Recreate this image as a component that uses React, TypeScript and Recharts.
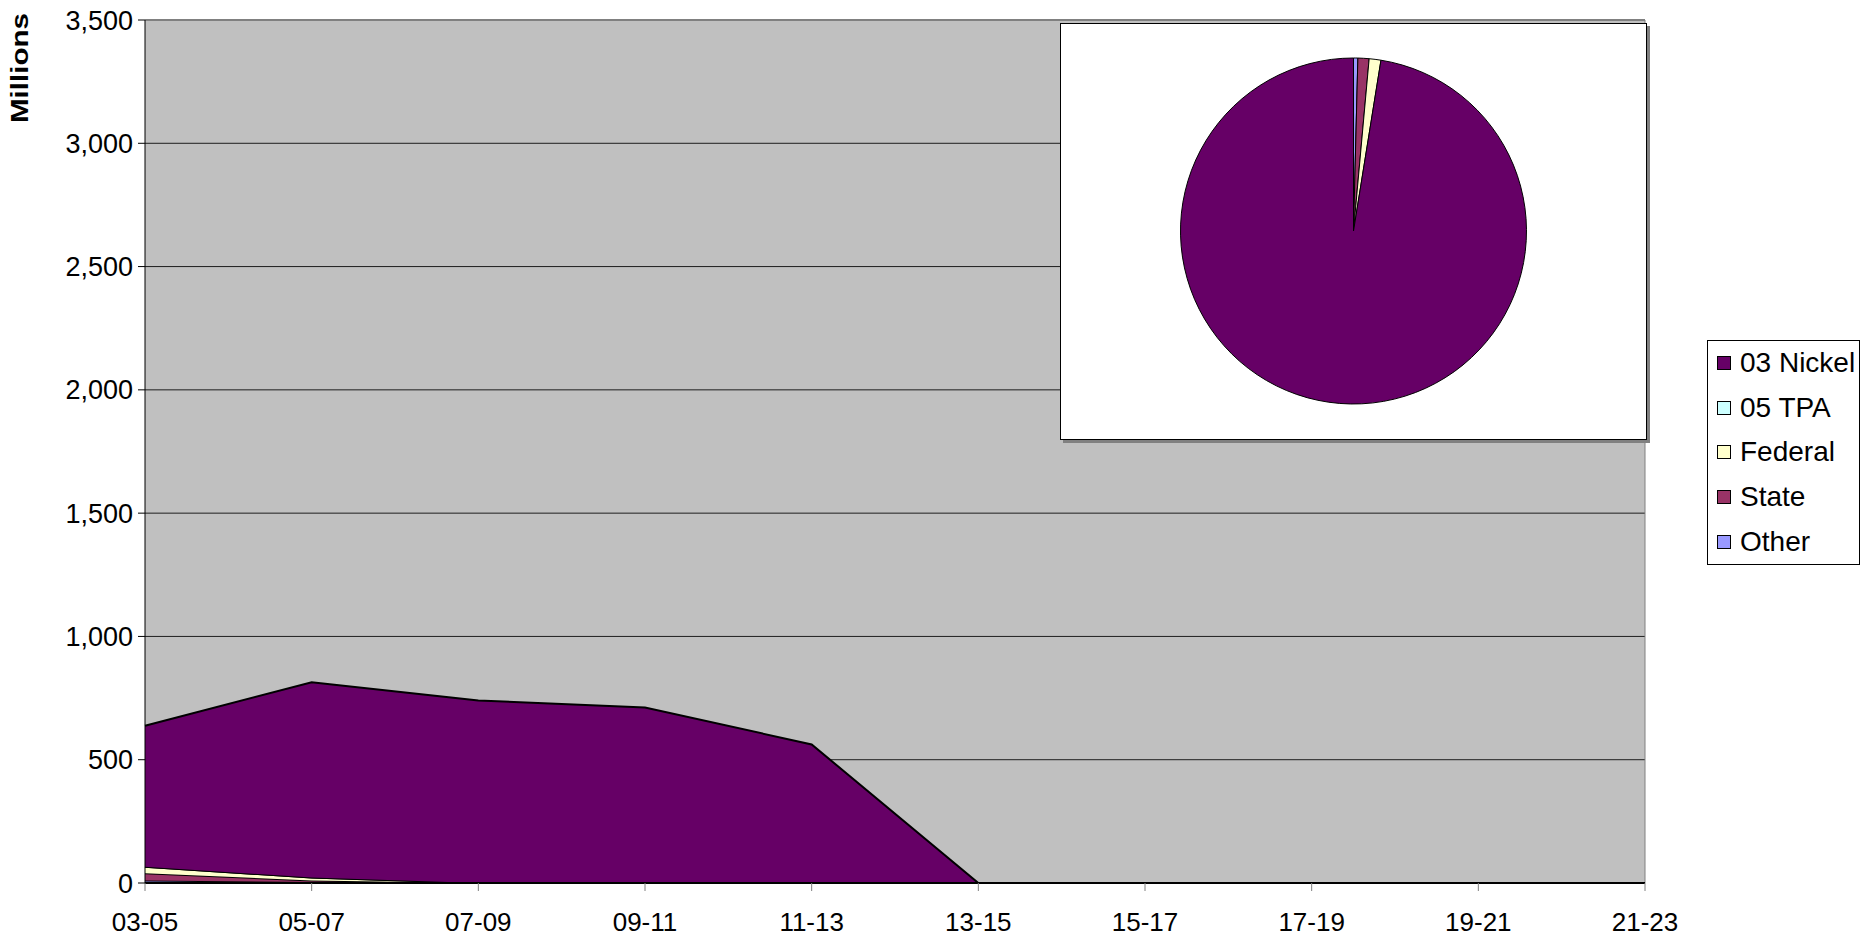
import React from "react";
import {
  AreaChart,
  Area,
  XAxis,
  YAxis,
  CartesianGrid,
  ReferenceLine,
  PieChart,
  Pie,
  Cell,
} from "recharts";

// Biennium periods on the category axis
const periods = ["03-05", "05-07", "07-09", "09-11", "11-13", "13-15", "15-17", "17-19", "19-21", "21-23"];

// Funding by source, in millions
const nickel03 = [572, 792, 740, 712, 562, 0, 0, 0, 0, 0];
const tpa05 = [0, 0, 0, 0, 0, 0, 0, 0, 0, 0];
const federal = [26, 12, 0, 0, 0, 0, 0, 0, 0, 0];
const stateFunds = [30, 6, 0, 0, 0, 0, 0, 0, 0, 0];
const other = [10, 4, 0, 0, 0, 0, 0, 0, 0, 0];

const yTicks = [0, 500, 1000, 1500, 2000, 2500, 3000, 3500];

// Legend order (top to bottom)
const series = [
  { key: "nickel03", name: "03 Nickel", color: "#660066", values: nickel03 },
  { key: "tpa05", name: "05 TPA", color: "#CCFFFF", values: tpa05 },
  { key: "federal", name: "Federal", color: "#FFFFCC", values: federal },
  { key: "state", name: "State", color: "#993366", values: stateFunds },
  { key: "other", name: "Other", color: "#9999FF", values: other },
];

// Stacking order bottom to top is the reverse of the legend
const stackOrder = [...series].reverse();

const rows = periods.map((p, i) => {
  const row: Record<string, string | number> = { period: p };
  series.forEach((s) => {
    row[s.key] = s.values[i];
  });
  return row;
});

// Pie shares: total of each source across all periods, drawn clockwise from 12 o'clock
const pieData = stackOrder
  .map((s) => ({ name: s.name, color: s.color, value: s.values.reduce((a, b) => a + b, 0) }))
  .filter((d) => d.value > 0);

const FONT = '"Liberation Sans", Arial, Helvetica, sans-serif';

const fmt = (v: number) => v.toLocaleString("en-US");

const LegendBox = () => (
  <div
    style={{
      position: "absolute",
      left: 1707,
      top: 340,
      width: 153,
      height: 225,
      boxSizing: "border-box",
      border: "1px solid #000",
      background: "#fff",
      fontFamily: FONT,
    }}
  >
    {series.map((s) => (
      <div key={s.key} style={{ display: "flex", alignItems: "center", height: 44.6 }}>
        <div
          style={{
            width: 14,
            height: 14,
            marginLeft: 9,
            marginRight: 9,
            background: s.color,
            border: "1px solid #000",
            boxSizing: "border-box",
            flexShrink: 0,
          }}
        />
        <span style={{ fontSize: 28, color: "#000", lineHeight: "28px", whiteSpace: "nowrap" }}>{s.name}</span>
      </div>
    ))}
  </div>
);

const MillionsLabel = () => (
  <text
    transform="translate(28,68) rotate(-90)"
    textAnchor="middle"
    fontFamily={FONT}
    fontWeight="bold"
    fontSize={24}
    fill="#000"
    textLength={110}
    lengthAdjust="spacingAndGlyphs"
  >
    Millions
  </text>
);

export default function App() {
  return (
    <div
      style={{
        position: "absolute",
        left: 0,
        top: 0,
        width: 1865,
        height: 937,
        background: "#fff",
        fontFamily: FONT,
      }}
    >
      <AreaChart width={1865} height={937} data={rows} margin={{ top: 20, right: 220, bottom: 0, left: 0 }}>
        <CartesianGrid horizontal vertical={false} stroke="#000" strokeOpacity={0.85} fill="#C0C0C0" />
        <XAxis
          dataKey="period"
          height={54}
          interval={0}
          tickSize={8}
          tickMargin={22}
          axisLine={{ stroke: "#000", strokeWidth: 2 }}
          tickLine={{ stroke: "#808080" }}
          tick={{ fontSize: 26, fill: "#000", fontFamily: FONT }}
        />
        <YAxis
          width={145}
          domain={[0, 3500]}
          ticks={yTicks}
          interval={0}
          tickSize={7}
          tickMargin={5}
          tickFormatter={fmt}
          axisLine={{ stroke: "#000" }}
          tickLine={{ stroke: "#000" }}
          tick={{ fontSize: 27, fill: "#000", fontFamily: FONT }}
          label={{ content: () => <MillionsLabel /> }}
        />
        <ReferenceLine y={3500} stroke="#808080" strokeWidth={2} />
        <ReferenceLine x="21-23" stroke="#808080" strokeWidth={1} />
        {stackOrder.map((s) => (
          <Area
            key={s.key}
            type="linear"
            dataKey={s.key}
            name={s.name}
            stackId="funds"
            stroke="#000"
            strokeWidth={2}
            fill={s.color}
            fillOpacity={1}
            dot={false}
            activeDot={false}
            isAnimationActive={false}
          />
        ))}
      </AreaChart>

      <div
        style={{
          position: "absolute",
          left: 1060,
          top: 23,
          width: 587,
          height: 417,
          boxSizing: "border-box",
          border: "1px solid #000",
          background: "#fff",
          boxShadow: "3px 3px 0 #808080",
        }}
      >
        <PieChart width={585} height={415} margin={{ top: 0, right: 0, bottom: 0, left: 0 }}>
          <Pie
            data={pieData}
            dataKey="value"
            nameKey="name"
            cx={292.5}
            cy={207}
            outerRadius={173}
            startAngle={90}
            endAngle={-270}
            stroke="#000"
            strokeWidth={1}
            isAnimationActive={false}
          >
            {pieData.map((d) => (
              <Cell key={d.name} fill={d.color} />
            ))}
          </Pie>
        </PieChart>
      </div>

      <LegendBox />
    </div>
  );
}
